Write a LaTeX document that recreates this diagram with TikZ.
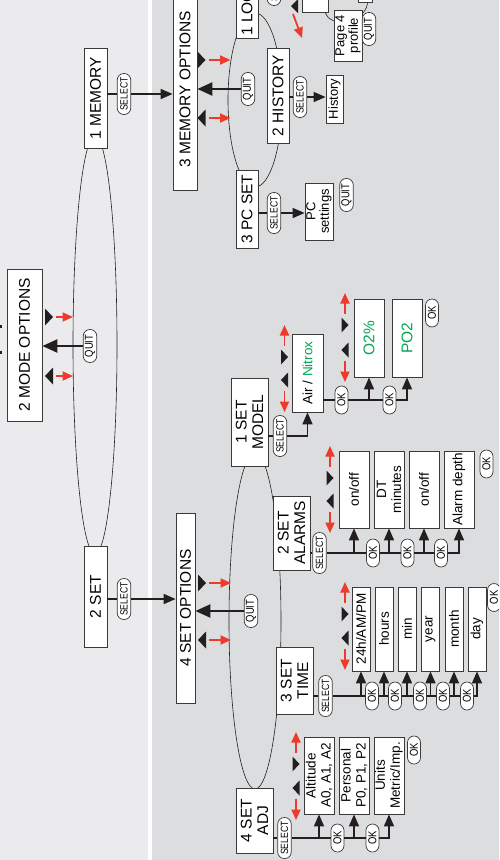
\documentclass[tikz,border=0pt]{standalone}
\usepackage{fontspec}
\setmainfont{Liberation Sans}
\newfontfamily\pillface[FakeStretch=0.82]{Liberation Sans}
\usetikzlibrary{arrows.meta}
\definecolor{paneleft}{HTML}{EBEBED}
\definecolor{paneright}{HTML}{DCDDDF}
\definecolor{scrollred}{HTML}{EE3A2D}
\definecolor{nitrox}{HTML}{00A650}
\definecolor{black90}{HTML}{231F20}
\definecolor{frame}{HTML}{3A3A3A}

\begin{document}
\begin{tikzpicture}[x=1pt, y=-1pt,
    box/.style={draw=frame, fill=white, line width=0.8pt, rotate=90, inner sep=0pt, align=center},
    headbox/.style={box, font=\fontsize{15.5}{17}\selectfont},
    menubox/.style={box, font=\fontsize{15.5}{16.5}\selectfont, minimum height=37pt},
    leafbox/.style={box, font=\fontsize{13.5}{15}\selectfont},
    notebox/.style={box, font=\fontsize{13}{13.5}\selectfont},
    pill/.style={draw=frame, fill=white, line width=0.7pt, rotate=90, inner sep=0pt, rounded corners=6.5pt, minimum height=13.5pt},
    selpill/.style={pill, minimum width=41pt, font=\pillface\fontsize{10.5}{11}\selectfont},
    quitpill/.style={pill, minimum width=33pt, font=\pillface\fontsize{11.5}{12}\selectfont},
    okpill/.style={pill, minimum width=28pt, minimum height=13pt, font=\pillface\fontsize{11.5}{12}\selectfont},
    wire/.style={draw=black90, line width=1.6pt},
    feed/.style={wire, -{Triangle[length=12pt,width=10pt]}},
    backarrow/.style={draw=black90, line width=2.4pt, -{Triangle[length=15pt,width=13pt]}},
    scrollarrow/.style={draw=scrollred, line width=1.8pt, -{Triangle[length=10.5pt,width=9pt]}},
    orbit/.style={draw=black90, line width=0.6pt},
]
\path[use as bounding box] (0,0) rectangle (499,860);
\clip (0,0) rectangle (499,860);

% Panels
\fill[white] (0,0) rectangle (499,860);
\fill[paneleft] (0,0) rectangle (148,860);
\fill[paneright] (152,0) rectangle (499,860);

% Menu loops
\draw[orbit] (95,345) ellipse [x radius=22, y radius=209];
\draw[orbit] (255,100) ellipse [x radius=27, y radius=87];
\draw[orbit] (255,621) ellipse [x radius=26, y radius=168];
\draw[orbit] (325,12) .. controls (328,18) .. (334,21);
\draw[orbit] (368,-2) .. controls (367,8) .. (362,14);

% Main menu
\node[headbox, minimum width=152pt, minimum height=35pt] (modeopt) at (24.5,345) {2 MODE OPTIONS};
\node[headbox, minimum width=100pt, minimum height=23pt] (mem1) at (95.5,98) {1 MEMORY};
\node[headbox, minimum width=101pt, minimum height=23pt] (set2) at (95.5,596.5) {2 SET};
\node[headbox, minimum width=202pt, minimum height=24pt] (memopt) at (185,89) {3 MEMORY OPTIONS};
\node[headbox, minimum width=190pt, minimum height=19pt] (setopt) at (185.5,608) {4 SET OPTIONS};

% Memory options
\node[headbox, minimum width=95pt, minimum height=22pt] (log1) at (247,-9.5) {1 LOGBOOK};
\node[headbox, minimum width=95pt, minimum height=22pt] (hist) at (278,95.5) {2 HISTORY};
\node[headbox, minimum width=78pt, minimum height=22pt] (pcset) at (247,209) {3 PC SET};
\node[notebox, minimum width=48pt, minimum height=17pt] (histbox) at (334.5,99) {History};
\node[notebox, minimum width=57pt, minimum height=28pt] (pcbox) at (319,211.5) {PC\\settings};
\node[notebox, minimum width=62pt, minimum height=25pt] (dpbox) at (315.5,-19) {Dive\\profile};
\node[notebox, minimum width=51pt, minimum height=28pt] (page4) at (348,35.5) {Page 4\\profile};
\node[notebox, minimum width=32pt, minimum height=14pt] (pagebox) at (365,-14) {};

% Set options
\node[menubox, minimum width=88pt] (model) at (249.5,422) {1 SET\\MODEL};
\node[menubox, minimum width=74pt] (alarms) at (291.5,533) {2 SET\\ALARMS};
\node[menubox, minimum width=67pt] (time) at (294.5,680.5) {3 SET\\TIME};
\node[menubox, minimum width=65pt] (adj) at (254.5,820.5) {4 SET\\ADJ};

% Model values
\node[leafbox, minimum width=78pt, minimum height=31pt] (air) at (307.5,373) {Air / \textcolor{nitrox}{Nitrox}};
\node[leafbox, minimum width=78pt, minimum height=30pt, text=nitrox, font=\fontsize{15.5}{16}\selectfont] (o2) at (369,338) {O2\%};
\node[leafbox, minimum width=78pt, minimum height=30pt, text=nitrox, font=\fontsize{15.5}{16}\selectfont] (po2) at (407,338) {PO2};

% Alarm values
\node[leafbox, minimum width=77pt, minimum height=30pt] (al1) at (354,489.5) {on/off};
\node[leafbox, minimum width=77pt, minimum height=30pt] (al2) at (389,489.5) {DT\\minutes};
\node[leafbox, minimum width=77pt, minimum height=30pt] (al3) at (424,489.5) {on/off};
\node[leafbox, minimum width=77pt, minimum height=30pt] (al4) at (459,489.5) {Alarm depth};

% Time values
\node[leafbox, minimum width=84pt, minimum height=18pt] (t1) at (361,629) {24h/AM/PM};
\node[leafbox, minimum width=84pt, minimum height=18pt] (t2) at (384,629) {hours};
\node[leafbox, minimum width=84pt, minimum height=18pt] (t3) at (407,629) {min};
\node[leafbox, minimum width=84pt, minimum height=18pt] (t4) at (430.5,629) {year};
\node[leafbox, minimum width=84pt, minimum height=18pt] (t5) at (454,629) {month};
\node[leafbox, minimum width=84pt, minimum height=18pt] (t6) at (477,629) {day};

% Adjust values
\node[leafbox, minimum width=77pt, minimum height=30pt] (a1) at (319,775.5) {Altitude\\A0, A1, A2};
\node[leafbox, minimum width=77pt, minimum height=30pt] (a2) at (354,775.5) {Personal\\P0, P1, P2};
\node[leafbox, minimum width=77pt, minimum height=30pt] (a3) at (389,775.5) {Units\\Metric/Imp.};

% Buttons
\node[selpill] (s1) at (124,94) {SELECT};
\node[selpill] (s2) at (124,599) {SELECT};
\node[selpill] (slog) at (274,-15) {SELECT};
\node[selpill] (sh) at (300,97) {SELECT};
\node[selpill] (spc) at (274,213) {SELECT};
\node[selpill] (sm) at (280,436) {SELECT};
\node[selpill] (sa) at (319.5,553) {SELECT};
\node[selpill] (st) at (325.5,696) {SELECT};
\node[selpill] (sadj) at (284.5,838) {SELECT};
\node[quitpill] (qmode) at (90,346) {QUIT};
\node[quitpill] (qmem) at (248,89) {QUIT};
\node[quitpill] (qset) at (251,611) {QUIT};
\node[quitpill] (qpc) at (346.5,195) {QUIT};
\node[quitpill] (qpage) at (369,29) {QUIT};
\node[okpill] (ok1) at (341.5,400) {OK};
\node[okpill] (ok2) at (389.5,400) {OK};
\node[okpill] (okm) at (432,313) {OK};
\node[okpill] (okA1) at (373,553) {OK};
\node[okpill] (okA2) at (407.5,553) {OK};
\node[okpill] (okA3) at (441,553) {OK};
\node[okpill] (okAx) at (486.5,464) {OK};
\node[okpill] (okT1) at (372,696) {OK};
\node[okpill] (okT2) at (395,696) {OK};
\node[okpill] (okT3) at (420,696) {OK};
\node[okpill] (okT4) at (443,696) {OK};
\node[okpill] (okT5) at (467,696) {OK};
\node[okpill] (okTx) at (494,597.5) {OK};
\node[okpill] (okD1) at (337.5,838) {OK};
\node[okpill] (okD2) at (372.5,838) {OK};
\node[okpill] (okDx) at (414,750) {OK};

% Select into submenus
\draw[wire] (mem1.south |- s1) -- (s1.north);
\draw[feed] (s1.south) -- (s1.south -| memopt.north);
\draw[wire] (set2.south |- s2) -- (s2.north);
\draw[feed] (s2.south) -- (s2.south -| setopt.north);
\draw[wire] (log1.south |- slog) -- (slog.north);
\draw[feed] (slog.south) -- (slog.south -| dpbox.north);
\draw[wire] (hist.south |- sh) -- (sh.north);
\draw[feed] (sh.south) -- (sh.south -| histbox.north);
\draw[wire] (pcset.south |- spc) -- (spc.north);
\draw[feed] (spc.south) -- (spc.south -| pcbox.north);

% Quit back
\draw[backarrow] (qmode.north) -- (qmode.north -| modeopt.south);
\draw[backarrow] (qmem.north) -- (qmem.north -| memopt.south);
\draw[backarrow] (qset.north) -- (qset.north -| setopt.south);

% Model chain
\draw[wire] (model.south |- sm) -- (sm.north);
\draw[feed] (sm.south) -| (air.west);
\draw[wire] (air.south |- ok1) -- (ok1.north);
\draw[wire] (ok1.south) -- (ok2.north);
\draw[feed] (o2.west |- ok1) -- (o2.west);
\draw[feed] (ok2.south) -| (po2.west);

% Alarm chain
\draw[wire] (alarms.south |- sa) -- (sa.north);
\draw[wire] (sa.south) -- (okA1.north);
\draw[wire] (okA1.south) -- (okA2.north);
\draw[wire] (okA2.south) -- (okA3.north);
\draw[feed] (okA3.south) -| (al4.west);
\foreach \n in {al1,al2,al3} {
    \draw[feed] (\n.west |- sa) -- (\n.west);
}

% Time chain
\draw[wire] (time.south |- st) -- (st.north);
\draw[wire] (st.south) -- (okT1.north);
\draw[wire] (okT1.south) -- (okT2.north);
\draw[wire] (okT2.south) -- (okT3.north);
\draw[wire] (okT3.south) -- (okT4.north);
\draw[wire] (okT4.south) -- (okT5.north);
\draw[feed] (okT5.south) -| (t6.west);
\foreach \n in {t1,t2,t3,t4,t5} {
    \draw[feed] (\n.west |- st) -- (\n.west);
}

% Adjust chain
\draw[wire] (adj.south |- sadj) -- (sadj.north);
\draw[wire] (sadj.south) -- (okD1.north);
\draw[wire] (okD1.south) -- (okD2.north);
\draw[feed] (okD2.south) -| (a3.west);
\foreach \n in {a1,a2} {
    \draw[feed] (\n.west |- sadj) -- (\n.west);
}

% Scroll marks beside the option boxes
\foreach \x/\ya/\yb/\l in {49/317/376/24, 201.5/60/118/29, 202/583/640/29} {
    \fill[black90] (\x-4,\ya-8.5) -- (\x+4,\ya) -- (\x-4,\ya+8.5) -- cycle;
    \fill[black90] (\x+4,\yb-8.5) -- (\x-4,\yb) -- (\x+4,\yb+8.5) -- cycle;
    \draw[scrollarrow] (\x+7,\ya) -- (\x+\l,\ya);
    \draw[scrollarrow] (\x+7,\yb) -- (\x+\l,\yb);
}

% Scroll marks beside the value lists
\foreach \x/\ya/\yb in {284.5/325/412, 345/293/382, 330/446/533, 345/582/670, 296/732/820} {
    \draw[scrollarrow] (\x,\ya+21) -- (\x,\ya);
    \draw[scrollarrow] (\x,\yb-21) -- (\x,\yb);
    \fill[black90] (\x-3.5,\ya+24.5) -- (\x+3.5,\ya+32) -- (\x-3.5,\ya+39.5) -- cycle;
    \fill[black90] (\x+3.5,\yb-39.5) -- (\x-3.5,\yb-32) -- (\x+3.5,\yb-24.5) -- cycle;
}

% Logbook marks at the top edge
\fill[black90] (298,-1) -- (291,6) -- (298,13) -- cycle;
\draw[scrollarrow] (293,14) -- (302,38);
\fill[black90] (0,325) rectangle (1.5,328);
\fill[black90] (0,351) rectangle (1.5,353.5);

\end{tikzpicture}
\end{document}
